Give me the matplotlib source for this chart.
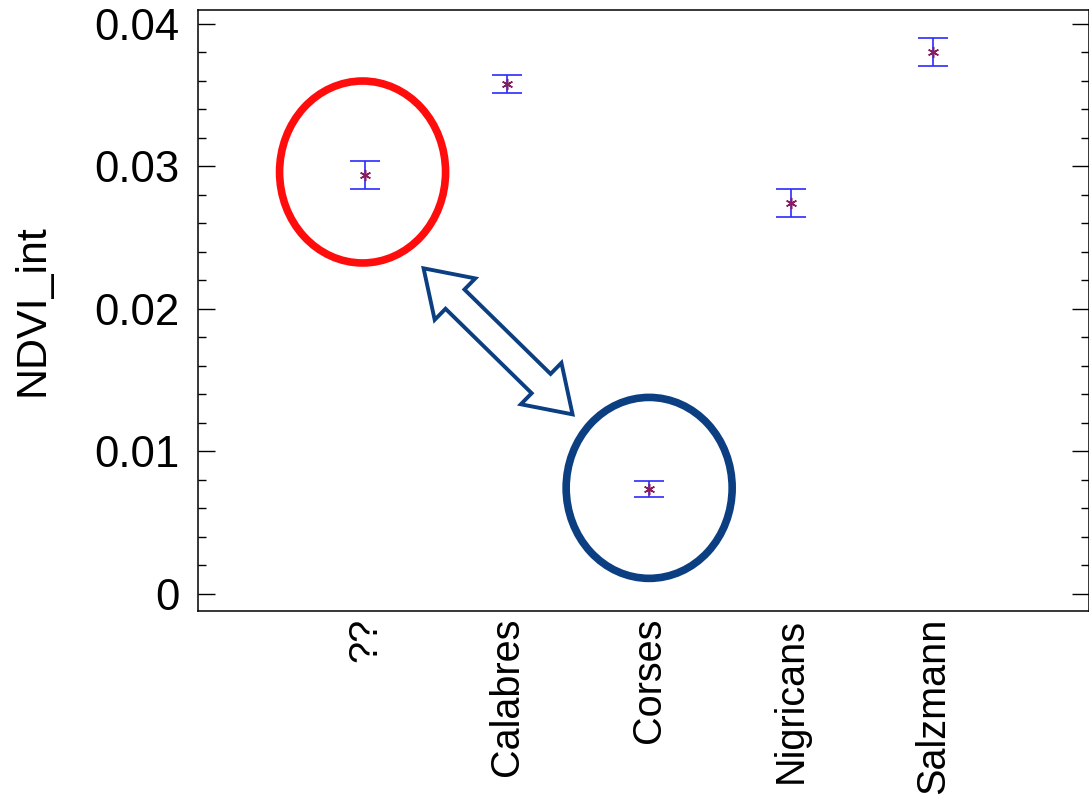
import numpy as np
import matplotlib
matplotlib.use("Agg")
import matplotlib.pyplot as plt
from matplotlib.patches import Ellipse, Polygon
from matplotlib.transforms import IdentityTransform
from matplotlib.ticker import MultipleLocator

plt.rcParams['font.family'] = ['Liberation Sans', 'DejaVu Sans']

# group means and standard errors of NDVI_int
groups = ["??", "Calabres", "Corses", "Nigricans", "Salzmann"]
means = [0.02940, 0.03580, 0.00737, 0.02744, 0.03800]
errors = [0.00095, 0.00063, 0.00056, 0.00098, 0.00098]

fig = plt.figure(figsize=(10.89, 7.99), dpi=100)
ax = fig.add_axes([0.1818, 0.2353, 0.8182, 0.7522])

x = np.arange(len(groups))
ax.errorbar(x, means, yerr=errors, fmt='none', ecolor='#2b2bff',
            elinewidth=1.2, capsize=10.5, capthick=1.2, zorder=2)
ax.plot(x, means, linestyle='none', marker=(6, 2, 0), markersize=8,
        markeredgewidth=1.1, color='#8b1c5c', zorder=3)

ax.set_xlim(-1.18, 5.1)
ax.set_ylim(-0.0012, 0.04098)
ax.set_xticks(x)
ax.set_xticklabels(groups, rotation=90, fontsize=28.5)
ax.tick_params(axis='x', length=0, pad=5)

ax.yaxis.set_major_locator(MultipleLocator(0.01))
ax.yaxis.set_minor_locator(MultipleLocator(0.002))
ax.set_yticks([0, 0.01, 0.02, 0.03, 0.04])
ax.set_yticklabels(["0", "0.01", "0.02", "0.03", "0.04"])
ax.tick_params(axis='y', which='major', direction='in', length=12, width=1.0,
               labelsize=31.5, pad=13.5, right=True)
ax.tick_params(axis='y', which='minor', direction='in', length=6, width=1.0,
               right=True)
ax.set_ylabel("NDVI_int", fontsize=31, labelpad=30)
for s in ax.spines.values():
    s.set_linewidth(1.1)

# highlight the two groups being compared
ax.add_patch(Ellipse((-0.02, 0.02961), 1.17, 0.01277, fill=False,
                     edgecolor='#ff0d0d', linewidth=5.5, zorder=4))
ax.add_patch(Ellipse((2.0, 0.00744), 1.17, 0.01270, fill=False,
                     edgecolor='#0b3f82', linewidth=5.5, zorder=4))

# hollow double-headed arrow between the ellipses, built in pixel space
def double_arrow(p0, p1, shaft=27, head_w=58, head_l=44):
    p0, p1 = np.asarray(p0, float), np.asarray(p1, float)
    d = p1 - p0
    L = np.hypot(*d)
    u = d / L
    n = np.array([-u[1], u[0]])
    pts = [
        (0, 0),
        (head_l, head_w / 2), (head_l, shaft / 2),
        (L - head_l, shaft / 2), (L - head_l, head_w / 2),
        (L, 0),
        (L - head_l, -head_w / 2), (L - head_l, -shaft / 2),
        (head_l, -shaft / 2), (head_l, -head_w / 2),
    ]
    return np.array([p0 + a * u + b * n for a, b in pts])

fig.canvas.draw()
start = ax.transData.transform((0.41, 0.02285))
end = ax.transData.transform((1.46, 0.01260))
ax.add_patch(Polygon(double_arrow(start, end), closed=True, facecolor='white',
                     edgecolor='#0b3f82', linewidth=2.8,
                     transform=IdentityTransform(), zorder=4))

fig.savefig("out.png", dpi=100)
